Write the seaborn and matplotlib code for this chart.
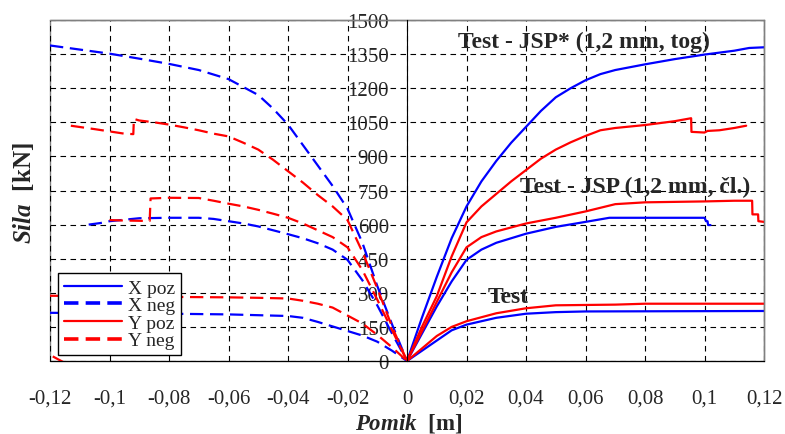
# force-displacement curves for joint tests (poz / neg directions)

import pandas as pd
import matplotlib
matplotlib.use("Agg")
import matplotlib.pyplot as plt
from matplotlib.lines import Line2D
from matplotlib.patches import Rectangle
from matplotlib.ticker import MultipleLocator, FuncFormatter
import seaborn as sns

# ---- data (pomik in m, sila in kN) ----
# X poz (blue, solid)
xpoz_jspt_u = [0, 0.005, 0.01, 0.015, 0.02, 0.025, 0.03, 0.035, 0.04, 0.045, 0.05,
               0.055, 0.06, 0.065, 0.07, 0.08, 0.09, 0.1, 0.11, 0.115, 0.12]
xpoz_jspt_f = [0, 190, 370, 540, 680, 790, 880, 960, 1030, 1100, 1160,
               1200, 1235, 1262, 1280, 1305, 1328, 1348, 1365, 1377, 1380]
xpoz_jsp_u = [0, 0.005, 0.01, 0.015, 0.02, 0.025, 0.03, 0.04, 0.05, 0.06, 0.068,
              0.08, 0.1, 0.1005, 0.101, 0.1012, 0.102]
xpoz_jsp_f = [0, 120, 240, 350, 445, 490, 520, 560, 590, 612, 630,
              630, 630, 615, 615, 598, 598]
xpoz_test_u = [0, 0.005, 0.01, 0.015, 0.02, 0.03, 0.04, 0.05, 0.06, 0.12]
xpoz_test_f = [0, 45, 90, 135, 160, 190, 208, 215, 218, 220]

# Y poz (red, solid)
ypoz_jspt_u = [0, 0.005, 0.01, 0.015, 0.02, 0.025, 0.03, 0.035, 0.04, 0.045, 0.05,
               0.055, 0.06, 0.065, 0.07, 0.08, 0.09, 0.0955, 0.0956, 0.1, 0.101,
               0.105, 0.11, 0.114]
ypoz_jspt_f = [0, 150, 285, 460, 610, 680, 735, 790, 840, 890, 930,
               962, 990, 1015, 1025, 1038, 1055, 1068, 1008, 1005, 1012,
               1015, 1025, 1035]
ypoz_jsp_u = [0, 0.005, 0.01, 0.015, 0.02, 0.025, 0.03, 0.04, 0.05, 0.06, 0.07,
              0.08, 0.09, 0.1, 0.11, 0.116, 0.1161, 0.118, 0.1181, 0.12]
ypoz_jsp_f = [0, 130, 260, 390, 500, 545, 570, 605, 630, 658, 690,
              698, 700, 702, 705, 705, 645, 645, 615, 612]
ypoz_test_u = [0, 0.005, 0.01, 0.015, 0.02, 0.03, 0.04, 0.05, 0.07, 0.08, 0.12]
ypoz_test_f = [0, 55, 110, 150, 175, 210, 232, 245, 248, 252, 252]

# X neg (blue, dashed)
xneg_jspt_u = [-0.12, -0.11, -0.1, -0.09, -0.08, -0.07, -0.06, -0.05, -0.045, -0.04,
               -0.035, -0.03, -0.025, -0.02, -0.015, -0.01, -0.005, 0]
xneg_jspt_f = [1388, 1370, 1352, 1330, 1307, 1280, 1240, 1170, 1110, 1040,
               950, 860, 770, 670, 520, 330, 160, 0]
xneg_jsp_u = [-0.107, -0.103, -0.1, -0.09, -0.08, -0.07, -0.065, -0.06, -0.055, -0.05,
              -0.045, -0.04, -0.035, -0.03, -0.025, -0.02, -0.015, -0.01, -0.005, 0]
xneg_jsp_f = [600, 607, 615, 628, 630, 630, 625, 615, 605, 592,
              575, 558, 540, 518, 490, 445, 355, 245, 120, 0]
xneg_test_u = [-0.12, -0.1, -0.08, -0.06, -0.04, -0.035, -0.03, -0.025, -0.02,
               -0.015, -0.01, -0.005, 0]
xneg_test_f = [212, 210, 208, 205, 198, 190, 172, 152, 132, 112, 85, 45, 0]

# Y neg (red, dashed)
yneg_jspt_u = [-0.113, -0.105, -0.095, -0.092, -0.0918, -0.09, -0.085, -0.08, -0.075,
               -0.07, -0.065, -0.06, -0.055, -0.05, -0.045, -0.04, -0.035, -0.03,
               -0.025, -0.02, -0.015, -0.01, -0.005, 0]
yneg_jspt_f = [1035, 1020, 1000, 998, 1065, 1058, 1050, 1040, 1028,
               1015, 1000, 988, 960, 930, 885, 835, 785, 730,
               680, 620, 480, 320, 150, 0]
yneg_jsp_u = [-0.1, -0.095, -0.0865, -0.0862, -0.08, -0.07, -0.065, -0.06, -0.055,
              -0.05, -0.045, -0.04, -0.035, -0.03, -0.025, -0.02, -0.015, -0.01,
              -0.005, 0]
yneg_jsp_f = [620, 618, 616, 715, 718, 717, 705, 692, 680,
              665, 648, 630, 605, 575, 545, 500, 400, 270, 135, 0]
yneg_test_u = [-0.12, -0.1, -0.08, -0.06, -0.05, -0.04, -0.035, -0.03, -0.025,
               -0.02, -0.015, -0.01, -0.005, 0]
yneg_test_f = [287, 285, 282, 280, 278, 275, 265, 252, 235, 200, 165, 115, 60, 0]
yneg_tail_u = [-0.125, -0.1155]
yneg_tail_f = [62, -5]

series = ["X poz", "X neg", "Y poz", "Y neg"]
colors = {"X poz": "#0000FF", "X neg": "#0000FF", "Y poz": "#FF0000", "Y neg": "#FF0000"}
dashes = {"X poz": "", "X neg": (6, 3), "Y poz": "", "Y neg": (6, 3)}

curves = [
    ("X poz", "xp1", xpoz_jspt_u, xpoz_jspt_f),
    ("X poz", "xp2", xpoz_jsp_u, xpoz_jsp_f),
    ("X poz", "xp3", xpoz_test_u, xpoz_test_f),
    ("Y poz", "yp1", ypoz_jspt_u, ypoz_jspt_f),
    ("Y poz", "yp2", ypoz_jsp_u, ypoz_jsp_f),
    ("Y poz", "yp3", ypoz_test_u, ypoz_test_f),
    ("X neg", "xn1", xneg_jspt_u, xneg_jspt_f),
    ("X neg", "xn2", xneg_jsp_u, xneg_jsp_f),
    ("X neg", "xn3", xneg_test_u, xneg_test_f),
    ("Y neg", "yn1", yneg_jspt_u, yneg_jspt_f),
    ("Y neg", "yn2", yneg_jsp_u, yneg_jsp_f),
    ("Y neg", "yn3", yneg_test_u, yneg_test_f),
    ("Y neg", "yn4", yneg_tail_u, yneg_tail_f),
]

rows = []
for ser, cid, us, fs in curves:
    for u, f in zip(us, fs):
        rows.append({"Pomik": u, "Sila": f, "serija": ser, "krivulja": cid})
df = pd.DataFrame(rows)

sns.set_style("white")
plt.rcParams["font.family"] = ["Liberation Serif", "DejaVu Serif"]
plt.rcParams["mathtext.fontset"] = "custom"
plt.rcParams["mathtext.rm"] = "Liberation Serif"
plt.rcParams["mathtext.bf"] = "Liberation Serif:bold"
plt.rcParams["mathtext.it"] = "Liberation Serif:italic"
plt.rcParams["mathtext.bfit"] = "Liberation Serif:italic:bold"

fig = plt.figure(figsize=(7.85, 4.35), dpi=100)
ax = fig.add_axes([0.0637, 0.1678, 0.9096, 0.7839])

# one line per test curve, coloured / dashed by series
sns.lineplot(data=df, x="Pomik", y="Sila", hue="serija", style="serija",
             units="krivulja", estimator=None, sort=False,
             palette=colors, dashes=dashes, hue_order=series, style_order=series,
             linewidth=1.6, legend=False, ax=ax)

ax.set_xlim(-0.12, 0.12)
ax.set_ylim(0, 1500)

# axis frame: grey box, black axes through origin
for s in ["top", "right"]:
    ax.spines[s].set_color("#808080")
    ax.spines[s].set_linewidth(1.0)
ax.spines["bottom"].set_color("black")
ax.spines["left"].set_color("black")
ax.spines["left"].set_position(("data", 0))
ax.spines["left"].set_zorder(5)
ax.add_patch(Rectangle((0, 0), 1, 1, transform=ax.transAxes, fill=False,
                       edgecolor="#808080", linewidth=1.0, clip_on=False, zorder=0))

ax.xaxis.set_major_locator(MultipleLocator(0.02))
ax.xaxis.set_minor_locator(MultipleLocator(0.005))
ax.yaxis.set_major_locator(MultipleLocator(150))
ax.yaxis.set_minor_locator(MultipleLocator(30))
ax.xaxis.set_major_formatter(FuncFormatter(lambda v, p: ("%g" % round(v, 3)).replace(".", ",")))

ax.tick_params(axis="both", which="major", direction="inout", length=14, width=1,
               labelsize=15, color="black")
ax.tick_params(axis="x", which="major", pad=13)
ax.tick_params(axis="y", which="major", pad=6)
ax.tick_params(axis="both", which="minor", direction="in", length=5, width=0.8)

ax.grid(True, which="major", color="black", linestyle=(0, (5, 4)), linewidth=0.8)

ax.set_xlabel("")
ax.set_ylabel("")
fig.text(0.03, 0.555, r"$\bfit{Sila}$" + "  [kN]", rotation=90, ha="center", va="center",
         fontsize=18, fontweight="bold")
fig.text(0.52, 0.027, r"$\bfit{Pomik}$" + "  [m]", ha="center", va="center",
         fontsize=16.5, fontweight="bold")

# curve group labels
ax.text(0.017, 1408, "Test - JSP* (1,2 mm, tog)", fontsize=17, fontweight="bold", va="center")
ax.text(0.038, 770, "Test - JSP (1,2 mm, čl.)", fontsize=17, fontweight="bold", va="center")
ax.text(0.027, 282, "Test", fontsize=17, fontweight="bold", va="center")

handles = [Line2D([], [], color=colors[s], linewidth=1.6 if "poz" in s else 2.6,
                  linestyle="-" if "poz" in s else (0, (4, 2))) for s in series]
leg = ax.legend(handles, series, loc="lower left", bbox_to_anchor=(0.011, 0.017),
                fontsize=14, frameon=True, fancybox=False, edgecolor="black",
                framealpha=1, handlelength=3.0, borderpad=0.3, labelspacing=0.0,
                handletextpad=0.3, borderaxespad=0)
leg.get_frame().set_linewidth(1.0)

fig.savefig("out.png", dpi=100)
